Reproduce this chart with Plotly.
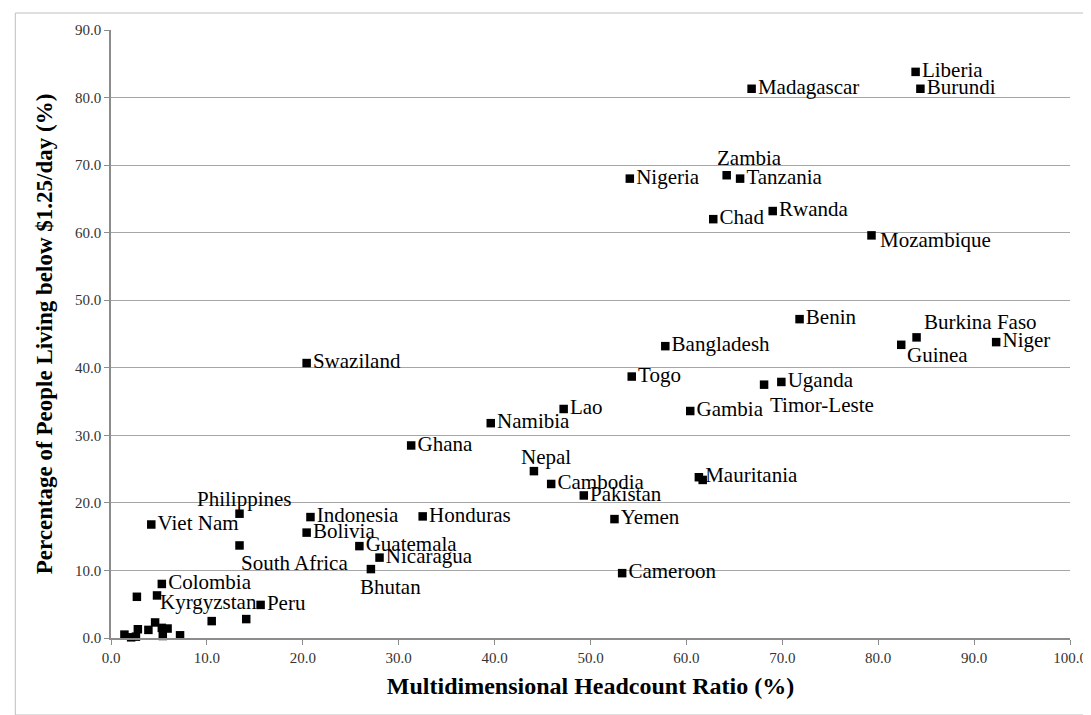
import plotly.graph_objects as go

# ---- data ----
countries = [
    "Liberia", "Burundi", "Madagascar", "Nigeria", "Zambia", "Tanzania", "Chad",
    "Rwanda", "Mozambique", "Benin", "Burkina Faso", "Guinea", "Niger",
    "Bangladesh", "Togo", "Timor-Leste", "Uganda", "Gambia", "Lao",
    "Swaziland", "Namibia", "Ghana", "Nepal", "Cambodia", "Pakistan",
    "Mauritania", "", "Honduras", "Yemen", "Guatemala", "Nicaragua", "Bhutan",
    "Cameroon", "Philippines", "Viet Nam", "South Africa", "Indonesia",
    "Bolivia", "Colombia", "", "Kyrgyzstan", "Peru",
    "", "", "", "", "", "", "", "", "", "", "", "",
]
mpi_headcount = [
    83.9, 84.4, 66.8, 54.1, 64.2, 65.6, 62.8,
    69.0, 79.3, 71.8, 84.0, 82.4, 92.3,
    57.8, 54.3, 68.1, 69.9, 60.4, 47.2,
    20.4, 39.6, 31.3, 44.1, 45.9, 49.3,
    61.3, 61.7, 32.5, 52.5, 25.9, 28.0, 27.1,
    53.3, 13.4, 4.2, 13.4, 20.8,
    20.4, 5.3, 2.7, 4.8, 15.6,
    1.4, 2.1, 2.6, 2.8, 3.9, 4.6, 5.3, 5.4, 5.9, 7.2, 10.5, 14.1,
]
income_poverty = [
    83.8, 81.3, 81.3, 68.0, 68.5, 68.0, 62.0,
    63.2, 59.6, 47.2, 44.5, 43.4, 43.8,
    43.2, 38.7, 37.5, 37.9, 33.6, 33.9,
    40.7, 31.8, 28.5, 24.7, 22.8, 21.1,
    23.8, 23.4, 18.0, 17.6, 13.6, 11.9, 10.2,
    9.6, 18.4, 16.8, 13.7, 17.9,
    15.6, 8.0, 6.1, 6.3, 4.9,
    0.5, 0.1, 0.2, 1.3, 1.2, 2.3, 1.5, 0.3, 1.4, 0.4, 2.5, 2.8,
]
x_ticks = [0, 10, 20, 30, 40, 50, 60, 70, 80, 90, 100]
y_ticks = [0, 10, 20, 30, 40, 50, 60, 70, 80, 90]

# ---- label placement (style): pixel offsets of label centre from marker ----
label_offsets = {
    "Zambia": (23, 17),
    "Philippines": (5, 15),
    "South Africa": (55, -18),
    "Bhutan": (20, -18),
    "Nepal": (12, 14),
    "Guinea": (36, -10),
    "Timor-Leste": (58, -20),
    "Burkina Faso": (64, 15),
    "Kyrgyzstan": (51, -7),
    "Mozambique": (64, -5),
}

SERIF = "Liberation Serif, Times New Roman, serif"
LABEL_SIZE = 21

trace_text = ["" if c in label_offsets else c for c in countries]

fig = go.Figure(
    go.Scatter(
        x=mpi_headcount,
        y=income_poverty,
        mode="markers+text",
        text=trace_text,
        textposition="middle right",
        textfont=dict(family=SERIF, size=LABEL_SIZE, color="#000000"),
        marker=dict(symbol="square", size=8.5, color="#000000"),
        cliponaxis=False,
        showlegend=False,
    )
)

for c, xv, yv in zip(countries, mpi_headcount, income_poverty):
    if c in label_offsets:
        dx, dy = label_offsets[c]
        fig.add_annotation(
            x=xv, y=yv, xref="x", yref="y", text=c, showarrow=False,
            xanchor="center", yanchor="middle", xshift=dx, yshift=dy,
            font=dict(family=SERIF, size=LABEL_SIZE, color="#000000"),
        )

fig.update_layout(
    width=1091,
    height=715,
    margin=dict(l=103, r=26, t=22, b=85),
    paper_bgcolor="white",
    plot_bgcolor="white",
    font=dict(family=SERIF, color="#000000"),
    xaxis=dict(
        range=[0, 100],
        tickvals=x_ticks,
        ticktext=[f"{v:.1f}" for v in x_ticks],
        tickfont=dict(family=SERIF, size=15, color="#333333"),
        showgrid=False,
        zeroline=False,
        showline=True,
        linecolor="#8c8c8c",
        linewidth=1.5,
        ticks="outside",
        ticklen=5,
        tickcolor="#8c8c8c",
        title=dict(
            text="<b>Multidimensional Headcount Ratio (%)</b>",
            font=dict(family=SERIF, size=24, color="#000000"),
            standoff=12,
        ),
    ),
    yaxis=dict(
        range=[0, 90],
        tickvals=y_ticks,
        ticktext=[f"{v:.1f}" for v in y_ticks],
        tickfont=dict(family=SERIF, size=15, color="#333333"),
        showgrid=True,
        gridcolor="#a6a6a6",
        gridwidth=1,
        zeroline=False,
        showline=True,
        linecolor="#8c8c8c",
        linewidth=1.5,
        ticks="outside",
        ticklen=5,
        tickcolor="#8c8c8c",
        title=dict(
            text="<b>Percentage of People Living below $1.25/day (%)</b>",
            font=dict(family=SERIF, size=23, color="#000000"),
            standoff=16,
        ),
    ),
)

# outer chart border
W, Hh = 962.0, 608.0
fig.add_shape(
    type="rect", xref="paper", yref="paper",
    x0=(7 - 103) / W, x1=(1086 - 103) / W,
    y0=(630 - 707) / Hh, y1=(630 - 5) / Hh,
    line=dict(color="#bfbfbf", width=1), fillcolor="rgba(0,0,0,0)", layer="below",
)

fig.write_html("out.html")
